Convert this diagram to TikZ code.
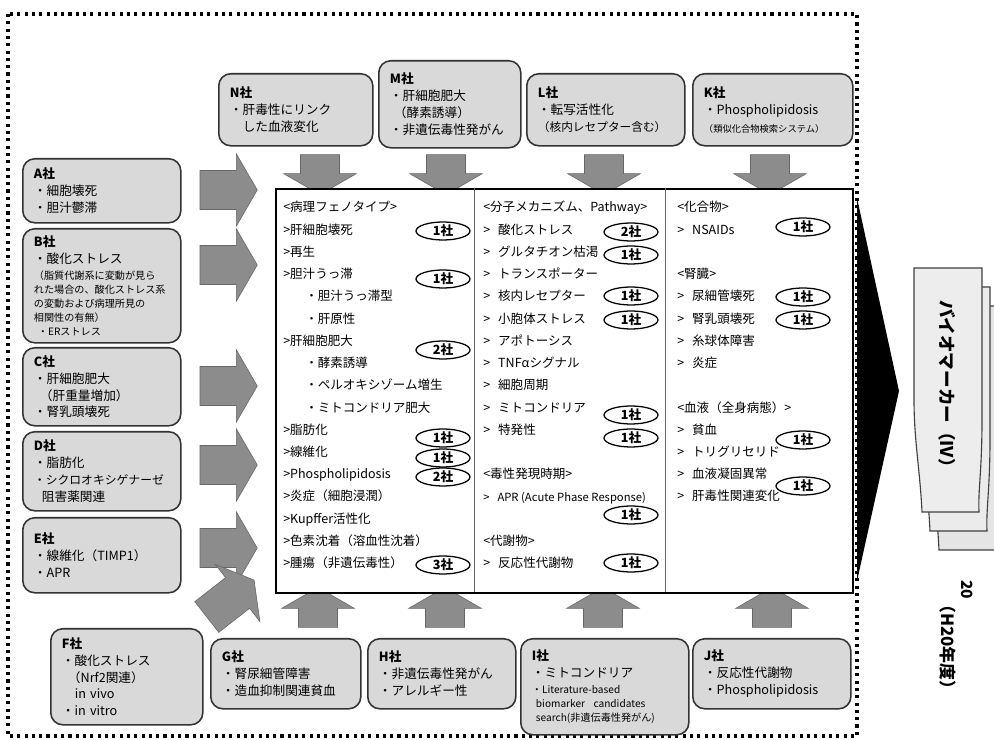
\documentclass[tikz,border=0pt]{standalone}
\usepackage{fontspec}
\setmainfont{Noto Sans CJK JP}
\usepackage{tikz}
\usetikzlibrary{
  positioning, shapes.geometric, shapes.arrows
}
\tikzset{
	cobox/.style={draw=black!80, line width=1.1pt, fill=black!15, rounded corners=0.3cm, anchor=north west, align=left, inner xsep=0.28cm, inner ysep=0.1cm, font=\fontsize{9}{12}\selectfont}
}
\tikzset{
	coltext/.style={anchor=north west, align=left, inner sep=0pt, font=\fontsize{8.9}{15.82}\selectfont}
}
\tikzset{
	countoval/.style={ellipse, draw=black, line width=0.9pt, fill=white, minimum width=1.35cm, minimum height=0.45cm, inner sep=0pt, font=\fontsize{9}{9}\selectfont\bfseries}
}
\tikzset{
	bigarrow/.style={single arrow, draw=black!60, fill=black!45, inner xsep=0pt, inner ysep=0.48cm, single arrow head extend=0.42cm, single arrow tip angle=120}
}
\tikzset{
	dotframe/.style={line width=2.2pt, dash pattern=on 2.2pt off 3pt},
	bmbox/.style={draw=black!75, line width=0.8pt}
}
\newcommand{\cname}[1]{\textbf{#1}\\}
\newcommand{\smalltxt}[1]{{\fontsize{7.2}{9}\selectfont #1}}
\newcommand{\mrk}{>}
\newcommand{\mrkw}{>\hspace{0.2cm}}

\begin{document}
\begin{tikzpicture}[x=0.025cm, y=-0.025cm]
	\useasboundingbox (0,0) rectangle (994,740);
	\draw[dotframe] (8,14) rectangle (857,736);

	\node[cobox, text width=3.29cm, minimum height=1.8cm] (coN) at (218,73) {\cname{N社}・肝毒性にリンク\\\hspace*{0.32cm}した血液変化};
	\node[cobox, text width=2.99cm, minimum height=2.175cm] (coM) at (378,60) {\cname{M社}・肝細胞肥大\\\hspace*{0.1cm}（酵素誘導）\\・非遺伝毒性発がん};
	\node[cobox, text width=3.39cm, minimum height=1.8cm] (coL) at (526,73) {\cname{L社}・転写活性化\\{\fontsize{8.3}{12}\selectfont（核内レセプター含む）}};
	\node[cobox, text width=3.44cm, minimum height=1.8cm] (coK) at (692,73) {\cname{K社}・Phospholipidosis\\[1pt]{\fontsize{6.6}{12}\selectfont（類似化合物検索システム）}};

	\node[cobox, text width=3.39cm, minimum height=1.6cm] (coA) at (22,158) {\cname{A社}・細胞壊死\\・胆汁鬱滞};
	\node[cobox, text width=3.39cm, minimum height=2.85cm] (coB) at (22,228) {\cname{B社}・酸化ストレス\\[-1pt]\smalltxt{（脂質代謝系に変動が見ら}\\[-2pt]\smalltxt{れた場合の、酸化ストレス系}\\[-2pt]\smalltxt{の変動および病理所見の}\\[-2pt]\smalltxt{相関性の有無）}\\[-2pt]\smalltxt{\hspace*{0.1cm}・ERストレス}};
	\node[cobox, text width=3.39cm, minimum height=1.95cm] (coC) at (22,347) {\cname{C社}・肝細胞肥大\\\hspace*{0.15cm}（肝重量増加）\\・腎乳頭壊死};
	\node[cobox, text width=3.39cm, minimum height=1.975cm] (coD) at (22,431) {\cname{D社}・脂肪化\\{\fontsize{8.4}{12}\selectfont・シクロオキシゲナーゼ}\\\hspace*{0.2cm}阻害薬関連};
	\node[cobox, text width=3.39cm, minimum height=1.875cm] (coE) at (22,517) {\cname{E社}・線維化（TIMP1）\\・APR};
	\node[cobox, text width=3.24cm, minimum height=2.4cm] (coF) at (50,628) {\cname{F社}・酸化ストレス\\\hspace*{0.15cm}（Nrf2関連）\\\hspace*{0.32cm}in vivo\\・in vitro};
	\node[cobox, text width=3.19cm, minimum height=1.75cm] (coG) at (210,638) {\cname{G社}・腎尿細管障害\\・造血抑制関連貧血};
	\node[cobox, text width=3.14cm, minimum height=1.75cm] (coH) at (367,638) {\cname{H社}・非遺伝毒性発がん\\・アレルギー性};
	\node[cobox, text width=3.64cm, minimum height=2.4cm] (coI) at (520,638) {\cname{I社}・ミトコンドリア\\[-1pt]\smalltxt{・Literature-based}\\[-2pt]\smalltxt{\hspace*{0.1cm}biomarker\ \ candidates}\\[-2pt]\smalltxt{\hspace*{0.1cm}search(非遺伝毒性発がん)}};
	\node[cobox, text width=3.39cm, minimum height=1.75cm] (coJ) at (692,638) {\cname{J社}・反応性代謝物\\・Phospholipidosis};

	\node[bigarrow, minimum height=1.0cm, rotate=-90] (arN) at (320,169) {};
	\node[bigarrow, minimum height=1.0cm, rotate=-90] (arM) at (446,169) {};
	\node[bigarrow, minimum height=1.0cm, rotate=-90] (arL) at (604,169) {};
	\node[bigarrow, minimum height=1.0cm, rotate=-90] (arK) at (770,169) {};
	\node[bigarrow, minimum height=1.43cm] (arA) at (223,190) {};
	\node[bigarrow, minimum height=1.43cm] (arB) at (223,265) {};
	\node[bigarrow, minimum height=1.43cm] (arC) at (223,386) {};
	\node[bigarrow, minimum height=1.43cm] (arD) at (223,465) {};
	\node[bigarrow, minimum height=1.43cm] (arE) at (223,548) {};
	\node[bigarrow, minimum height=1.5cm, rotate=38] (arF) at (226,602) {};
	\node[bigarrow, minimum height=1.0cm, rotate=90] (arG) at (318,613) {};
	\node[bigarrow, minimum height=1.0cm, rotate=90] (arH) at (445,613) {};
	\node[bigarrow, minimum height=1.0cm, rotate=90] (arI) at (603,613) {};
	\node[bigarrow, minimum height=1.0cm, rotate=90] (arJ) at (772,613) {};

	\node[draw=black, line width=1.2pt, fill=white, minimum width=14.425cm, minimum height=10.1cm, anchor=north west, inner sep=0pt] (tab) at (275,188) {};
	\draw[black!60, line width=0.6pt] (474,188) -- (474,592);
	\draw[black!60, line width=0.6pt] (665,188) -- (665,592);

	\node[coltext] (colP) at (283,201) {<病理フェノタイプ>\\
		\mrk 肝細胞壊死\\
		\mrk 再生\\
		\mrk 胆汁うっ滞\\
		\hspace*{0.55cm}・胆汁うっ滞型\\
		\hspace*{0.55cm}・肝原性\\
		\mrk 肝細胞肥大\\
		\hspace*{0.55cm}・酵素誘導\\
		\hspace*{0.55cm}・ペルオキシゾーム増生\\
		\hspace*{0.55cm}・ミトコンドリア肥大\\
		\mrk 脂肪化\\
		\mrk 線維化\\
		\mrk Phospholipidosis\\
		\mrk 炎症（細胞浸潤）\\
		\mrk Kupffer活性化\\
		\mrk 色素沈着（溶血性沈着）\\
		\mrk 腫瘍（非遺伝毒性）};
	\node[coltext] (colM) at (483,201) {<分子メカニズム、Pathway>\\
		\mrkw 酸化ストレス\\
		\mrkw グルタチオン枯渇\\
		\mrkw トランスポーター\\
		\mrkw 核内レセプター\\
		\mrkw 小胞体ストレス\\
		\mrkw アポトーシス\\
		\mrkw TNFαシグナル\\
		\mrkw 細胞周期\\
		\mrkw ミトコンドリア\\
		\mrkw 特発性\\
		~\\
		<毒性発現時期>\\
		{\fontsize{8}{8}\selectfont\mrkw APR (Acute Phase Response)}\\
		~\\
		<代謝物>\\
		\mrkw 反応性代謝物};
	\node[coltext] (colC) at (677,201) {<化合物>\\
		\mrkw NSAIDs\\
		~\\
		<腎臓>\\
		\mrkw 尿細管壊死\\
		\mrkw 腎乳頭壊死\\
		\mrkw 糸球体障害\\
		\mrkw 炎症\\
		~\\
		<血液（全身病態）>\\
		\mrkw 貧血\\
		\mrkw トリグリセリド\\
		\mrkw 血液凝固異常\\
		\mrkw 肝毒性関連変化};

	\node[countoval] (pA) at (443,231) {1社};
	\node[countoval] (pB) at (443,279) {1社};
	\node[countoval] (pC) at (443,350) {2社};
	\node[countoval] (pD) at (443,438) {1社};
	\node[countoval] (pE) at (443,458) {1社};
	\node[countoval] (pF) at (443,477) {2社};
	\node[countoval] (pG) at (443,565) {3社};
	\node[countoval] (mA) at (631,232) {2社};
	\node[countoval] (mB) at (631,255) {1社};
	\node[countoval] (mC) at (631,296) {1社};
	\node[countoval] (mD) at (631,320) {1社};
	\node[countoval] (mE) at (631,415) {1社};
	\node[countoval] (mF) at (631,438) {1社};
	\node[countoval] (mG) at (631,515) {1社};
	\node[countoval] (mH) at (631,563) {1社};
	\node[countoval] (cA) at (803,227) {1社};
	\node[countoval] (cB) at (803,297) {1社};
	\node[countoval] (cC) at (803,320) {1社};
	\node[countoval] (cD) at (803,440) {1社};
	\node[countoval] (cE) at (803,486) {1社};

	\fill[black] (857,198) -- (899,391) -- (857,581) -- cycle;

	\begin{scope}[shift={(17,38)}]
		\draw[bmbox, fill=black!10] (914,268) -- (982,268) -- (982,420) .. controls (982,470) and (978,490) .. (979,512) -- (922,512) .. controls (920,470) and (914,440) .. (914,400) -- cycle;
	\end{scope}
	\begin{scope}[shift={(8,19)}]
		\draw[bmbox, fill=black!8] (914,268) -- (982,268) -- (982,420) .. controls (982,470) and (978,490) .. (979,512) -- (922,512) .. controls (920,470) and (914,440) .. (914,400) -- cycle;
	\end{scope}
	\draw[bmbox, fill=black!7] (914,268) -- (982,268) -- (982,420) .. controls (982,470) and (978,490) .. (979,512) -- (922,512) .. controls (920,470) and (914,440) .. (914,400) -- cycle;
	\node[font=\fontsize{12.5}{14}\selectfont\bfseries, rotate=-90] (bm) at (947,388) {バイオマーカー（IV）};
	\node[font=\fontsize{11}{12}\selectfont\bfseries, rotate=-90, anchor=west, inner sep=0pt] (yr) at (967,580) {20};
	\node[font=\fontsize{12}{12}\selectfont\bfseries, rotate=-90, anchor=west, inner sep=0pt] (yrh) at (948,596) {（H20年度）};
\end{tikzpicture}
\end{document}
